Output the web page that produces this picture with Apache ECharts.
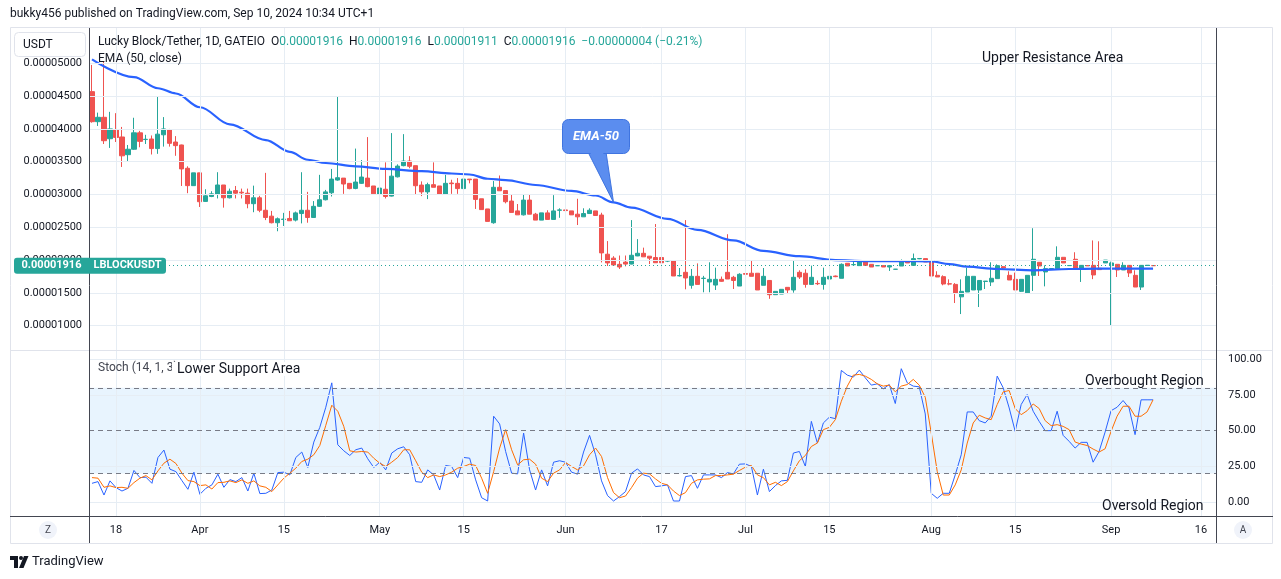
<!DOCTYPE html>
<html><head><meta charset="utf-8">
<script src="https://cdn.jsdelivr.net/npm/echarts@6/dist/echarts.min.js"></script>
<style>html,body{margin:0;padding:0;background:#fff}#c{width:1281px;height:579px}</style>
</head><body><div id="c"></div>
<script>
// ---------------- DATA ----------------
const startDate = '2024-03-14';
const missingDates = ['2024-08-25'];
const slotCount = 188;

const openP = [
0.00004568,0.00004110,0.00004177,0.00003850,0.00003990,0.00003877,0.00003607,0.00003690,0.00003940,0.00003838,
0.00003846,0.00003700,0.00003910,0.00003990,0.00003800,0.00003755,0.00003400,0.00003135,0.00003330,0.00002895,
0.00002970,0.00003000,0.00003145,0.00002950,0.00003060,0.00003035,0.00003020,0.00002860,0.00002950,0.00002760,
0.00002670,0.00002570,0.00002620,0.00002635,0.00002610,0.00002710,0.00002760,0.00002650,0.00002820,0.00002920,
0.00003027,0.00003220,0.00003250,0.00003170,0.00003093,0.00003170,0.00003250,0.00003130,0.00003007,0.00003080,
0.00002976,0.00003270,0.00003440,0.00003510,0.00003440,0.00003144,0.00003040,0.00003150,0.00003130,0.00003000,
0.00003175,0.00003170,0.00003090,0.00003235,0.00003235,0.00002935,0.00002780,0.00002570,0.00003110,0.00003060,
0.00002900,0.00002750,0.00002690,0.00002915,0.00002700,0.00002610,0.00002720,0.00002620,0.00002760,0.00002765,
0.00002750,0.00002700,0.00002660,0.00002710,0.00002750,0.00002687,0.00002090,0.00002030,0.00001936,0.00001970,
0.00001940,0.00002064,0.00002104,0.00002060,0.00002040,0.00002040,0.00001985,0.00001990,0.00001760,0.00001814,
0.00001616,0.00001753,0.00001720,0.00001667,0.00001620,0.00001707,0.00001814,0.00001738,0.00001605,0.00001795,
0.00001800,0.00001800,0.00001616,0.00001690,0.00001473,0.00001483,0.00001585,0.00001545,0.00001814,0.00001800,
0.00001630,0.00001645,0.00001630,0.00001712,0.00001757,0.00001723,0.00001952,0.00001930,0.00001916,0.00001977,
0.00001936,0.00001914,0.00001916,0.00001895,0.00001860,0.00001910,0.00001977,0.00001920,0.00002020,0.00002023,
0.00001982,0.00001768,0.00001748,0.00001640,0.00001630,0.00001440,0.00001514,0.00001545,0.00001545,0.00001675,
0.00001667,0.00001718,0.00001900,0.00001768,0.00001707,0.00001524,0.00001500,0.00001768,0.00001967,0.00001820,
0.00001870,0.00001870,0.00002043,0.00001916,0.00002013,0.00001870,0.00001916,0.00001920,0.00001875,0.00001957,
0.00001916,0.00001936,0.00001850,0.00001920,0.00001768,0.00001590,0.00001920,0.00001916];
const highP = [
0.00004975,0.00004248,0.00005025,0.00004260,0.00004240,0.00004030,0.00003755,0.00004170,0.00003970,0.00003910,
0.00003900,0.00004500,0.00004180,0.00004000,0.00003890,0.00003760,0.00003430,0.00003330,0.00003330,0.00003080,
0.00003050,0.00003340,0.00003145,0.00003090,0.00003130,0.00003090,0.00003090,0.00003135,0.00002980,0.00003330,
0.00002750,0.00002650,0.00002720,0.00002750,0.00002740,0.00003340,0.00003040,0.00002900,0.00003300,0.00003070,
0.00003390,0.00004500,0.00003250,0.00003170,0.00003700,0.00003525,0.00003875,0.00003130,0.00003630,0.00003490,
0.00003936,0.00003460,0.00003920,0.00003585,0.00003440,0.00003200,0.00003180,0.00003490,0.00003130,0.00003300,
0.00003225,0.00003250,0.00003300,0.00003235,0.00003235,0.00002935,0.00002780,0.00003205,0.00003290,0.00003060,
0.00003007,0.00002855,0.00003000,0.00003000,0.00002720,0.00002720,0.00002760,0.00002990,0.00002790,0.00002770,
0.00002750,0.00002935,0.00002790,0.00002790,0.00002750,0.00002722,0.00002290,0.00002060,0.00002070,0.00002070,
0.00002610,0.00002320,0.00002190,0.00002060,0.00002550,0.00002040,0.00002000,0.00002000,0.00001880,0.00002610,
0.00001865,0.00001950,0.00001760,0.00001967,0.00001885,0.00001750,0.00002395,0.00001760,0.00001800,0.00001800,
0.00002000,0.00001800,0.00001880,0.00001690,0.00001524,0.00001555,0.00001585,0.00002000,0.00001845,0.00001860,
0.00001916,0.00001690,0.00001885,0.00001784,0.00001765,0.00001950,0.00001952,0.00002000,0.00002000,0.00002000,
0.00001936,0.00001918,0.00001916,0.00001916,0.00001865,0.00002010,0.00001977,0.00002100,0.00002030,0.00002023,
0.00001982,0.00001830,0.00001768,0.00001707,0.00001650,0.00001707,0.00001885,0.00001753,0.00001690,0.00001680,
0.00001967,0.00001936,0.00001910,0.00001830,0.00001810,0.00001707,0.00001768,0.00002486,0.00001967,0.00001920,
0.00001875,0.00002210,0.00002043,0.00001920,0.00002120,0.00001920,0.00001918,0.00002300,0.00002287,0.00002000,
0.00001977,0.00001936,0.00001967,0.00001920,0.00001845,0.00001920,0.00001922,0.00001916];
const lowP = [
0.00004095,0.00004045,0.00003770,0.00003710,0.00003800,0.00003420,0.00003510,0.00003680,0.00003720,0.00003770,
0.00003610,0.00003620,0.00003730,0.00003730,0.00003590,0.00003130,0.00003020,0.00003130,0.00002810,0.00002890,
0.00002960,0.00002940,0.00002800,0.00002940,0.00002940,0.00002940,0.00002790,0.00002730,0.00002730,0.00002610,
0.00002560,0.00002440,0.00002520,0.00002600,0.00002590,0.00002560,0.00002570,0.00002650,0.00002810,0.00002910,
0.00002970,0.00003210,0.00003010,0.00003080,0.00003080,0.00003160,0.00003110,0.00003010,0.00002970,0.00002940,
0.00002970,0.00003260,0.00003430,0.00003400,0.00003007,0.00002976,0.00002930,0.00003110,0.00003000,0.00003000,
0.00003010,0.00003010,0.00003010,0.00003170,0.00002780,0.00002770,0.00002590,0.00002555,0.00003057,0.00002865,
0.00002727,0.00002690,0.00002680,0.00002700,0.00002610,0.00002610,0.00002620,0.00002620,0.00002645,0.00002730,
0.00002690,0.00002535,0.00002660,0.00002710,0.00002680,0.00001965,0.00001910,0.00001916,0.00001865,0.00001905,
0.00001935,0.00002060,0.00002050,0.00001940,0.00001960,0.00001880,0.00001970,0.00001758,0.00001750,0.00001555,
0.00001565,0.00001630,0.00001510,0.00001510,0.00001545,0.00001670,0.00001712,0.00001560,0.00001605,0.00001780,
0.00001753,0.00001545,0.00001616,0.00001410,0.00001473,0.00001483,0.00001483,0.00001504,0.00001713,0.00001580,
0.00001626,0.00001620,0.00001550,0.00001712,0.00001740,0.00001723,0.00001911,0.00001915,0.00001916,0.00001920,
0.00001895,0.00001912,0.00001895,0.00001835,0.00001855,0.00001910,0.00001957,0.00001920,0.00002015,0.00001972,
0.00001758,0.00001743,0.00001616,0.00001616,0.00001346,0.00001178,0.00001514,0.00001545,0.00001285,0.00001560,
0.00001605,0.00001718,0.00001870,0.00001697,0.00001545,0.00001514,0.00001500,0.00001530,0.00001758,0.00001600,
0.00001865,0.00001870,0.00001957,0.00001912,0.00001865,0.00001667,0.00001912,0.00001710,0.00001855,0.00001957,
0.00001010,0.00001743,0.00001850,0.00001743,0.00001590,0.00001545,0.00001916,0.00001911];
const closeP = [
0.00004110,0.00004177,0.00003820,0.00004000,0.00003870,0.00003590,0.00003690,0.00003940,0.00003810,0.00003842,
0.00003700,0.00003920,0.00004000,0.00003780,0.00003745,0.00003390,0.00003135,0.00003330,0.00002890,0.00002980,
0.00003010,0.00003145,0.00002950,0.00003050,0.00003020,0.00003025,0.00002860,0.00002950,0.00002760,0.00002650,
0.00002570,0.00002630,0.00002625,0.00002600,0.00002720,0.00002760,0.00002650,0.00002820,0.00002920,0.00003040,
0.00003235,0.00003256,0.00003160,0.00003090,0.00003190,0.00003266,0.00003120,0.00003010,0.00003098,0.00002970,
0.00003280,0.00003433,0.00003510,0.00003430,0.00003134,0.00003040,0.00003150,0.00003110,0.00003000,0.00003170,
0.00003165,0.00003090,0.00003235,0.00003225,0.00002925,0.00002770,0.00002590,0.00003110,0.00003057,0.00002890,
0.00002727,0.00002690,0.00002915,0.00002700,0.00002610,0.00002720,0.00002620,0.00002750,0.00002765,0.00002755,
0.00002690,0.00002660,0.00002710,0.00002760,0.00002680,0.00002110,0.00001957,0.00001926,0.00001895,0.00001940,
0.00002074,0.00002104,0.00002050,0.00002030,0.00001960,0.00001960,0.00001990,0.00001758,0.00001765,0.00001728,
0.00001753,0.00001630,0.00001725,0.00001707,0.00001707,0.00001677,0.00001712,0.00001690,0.00001784,0.00001785,
0.00001753,0.00001545,0.00001753,0.00001473,0.00001524,0.00001555,0.00001545,0.00001738,0.00001743,0.00001630,
0.00001738,0.00001640,0.00001738,0.00001753,0.00001748,0.00001936,0.00001911,0.00001932,0.00001972,0.00001920,
0.00001895,0.00001916,0.00001895,0.00001916,0.00001862,0.00001977,0.00001957,0.00002023,0.00002025,0.00001972,
0.00001758,0.00001743,0.00001636,0.00001635,0.00001500,0.00001524,0.00001753,0.00001753,0.00001690,0.00001680,
0.00001723,0.00001916,0.00001880,0.00001697,0.00001545,0.00001707,0.00001768,0.00002013,0.00001911,0.00001870,
0.00001872,0.00002043,0.00001957,0.00001918,0.00001865,0.00001920,0.00001914,0.00001774,0.00001855,0.00002000,
0.00001957,0.00001850,0.00001920,0.00001804,0.00001590,0.00001920,0.00001920,0.00001916];

// EMA(50) at selected dates
const emaPoints = [
['2024-03-14',0.00005060],['2024-03-21',0.00004790],['2024-03-25',0.00004620],['2024-03-28',0.00004540],
['2024-04-01',0.00004330],['2024-04-06',0.00004070],['2024-04-12',0.00003830],['2024-04-16',0.00003650],
['2024-04-19',0.00003530],['2024-04-22',0.00003480],['2024-04-27',0.00003430],['2024-05-02',0.00003390],
['2024-05-08',0.00003355],['2024-05-13',0.00003320],['2024-05-16',0.00003305],['2024-05-19',0.00003240],
['2024-05-22',0.00003220],['2024-05-27',0.00003145],['2024-06-02',0.00003055],['2024-06-06',0.00002985],
['2024-06-09',0.00002880],['2024-06-12',0.00002800],['2024-06-18',0.00002630],['2024-06-23',0.00002460],
['2024-06-29',0.00002300],['2024-07-04',0.00002140],['2024-07-10',0.00002060],['2024-07-16',0.00002000],
['2024-07-21',0.00001985],['2024-07-27',0.00001985],['2024-08-01',0.00001980],['2024-08-04',0.00001940],
['2024-08-07',0.00001900],['2024-08-12',0.00001865],['2024-08-18',0.00001845],['2024-08-24',0.00001865],
['2024-08-30',0.00001870],['2024-09-08',0.00001870]];
const emaCalloutDate = '2024-06-09';

const stochK = [
13.1,14.3,4.9,14.8,10.1,7.7,9.6,22.1,17.1,17.4,
13.1,31.2,36.4,23.0,21.3,15.0,8.9,20.9,5.4,9.6,
12.0,19.5,10.3,15.7,14.3,17.1,7.7,20.2,5.9,6.1,
8.4,20.6,20.9,19.0,31.2,35.0,24.2,42.0,52.3,66.4,
83.5,40.1,35.9,32.6,36.6,37.8,30.3,24.2,27.9,22.5,
34.3,37.3,38.7,33.1,14.3,13.8,22.5,19.0,8.4,25.6,
24.9,17.1,31.2,30.7,15.5,3.0,0.7,60.1,54.7,35.4,
20.2,19.7,48.3,22.5,8.4,22.5,11.3,27.9,28.9,27.9,
20.9,19.5,35.0,46.7,33.1,14.8,4.5,0.7,3.8,7.3,
20.2,23.2,19.0,17.8,10.8,11.3,12.0,0.7,0.7,17.8,
18.5,9.6,19.0,19.0,19.0,17.1,20.6,19.7,26.5,26.7,
24.9,4.9,23.0,7.3,11.5,14.8,15.2,34.3,35.4,24.9,
56.5,41.3,55.4,59.4,58.4,92.2,88.9,87.5,92.4,87.0,
81.9,82.8,79.3,82.3,69.0,93.4,83.5,81.2,80.7,61.7,
6.1,2.6,6.1,6.1,19.0,33.1,63.1,63.1,57.0,55.4,
60.1,88.2,80.0,65.9,49.5,68.3,75.3,63.6,56.5,50.0,
50.0,63.6,46.7,42.5,37.8,41.8,41.8,27.9,35.4,49.0,
64.0,66.4,71.1,65.9,47.2,71.6,71.6,71.6];
const stochD = [
17.1,16.7,10.3,11.3,10.1,10.3,9.6,13.6,16.7,18.5,
15.5,21.8,27.2,30.0,27.0,20.2,15.0,14.3,11.5,12.0,
9.1,13.6,13.8,14.8,13.6,15.5,13.1,14.8,11.3,10.3,
7.3,12.0,16.7,20.2,23.7,28.4,30.0,33.1,39.6,53.7,
67.8,63.6,53.0,35.9,35.0,35.4,35.0,30.7,27.2,24.9,
27.9,31.2,36.6,36.6,28.9,20.9,17.1,19.0,17.8,19.0,
20.9,23.7,24.9,26.5,25.6,16.7,6.1,21.3,37.8,50.7,
36.6,26.0,29.6,30.0,26.5,16.7,14.3,20.2,22.5,27.7,
24.9,22.5,25.3,33.1,37.8,31.9,17.1,6.6,3.0,4.2,
10.1,16.7,20.2,19.7,16.2,13.1,12.0,7.7,4.5,6.6,
13.1,15.5,16.0,16.2,18.5,18.5,19.0,19.5,22.1,24.4,
25.6,19.0,17.1,12.0,13.8,11.5,14.3,21.8,28.9,32.6,
38.9,41.3,50.7,52.3,57.7,70.6,81.2,88.9,89.4,88.2,
85.9,82.8,81.2,81.9,77.2,81.2,82.3,85.9,81.9,73.4,
48.3,21.3,4.9,4.9,12.0,22.5,41.3,55.4,60.8,58.9,
57.7,68.3,77.2,78.1,65.5,61.2,64.0,68.7,65.5,57.0,
53.5,54.2,53.0,50.7,42.0,40.6,39.6,37.1,35.0,37.3,
49.5,60.1,67.1,67.1,60.1,60.1,63.1,71.6];

const priceTicks = [0.00001,0.000015,0.00002,0.000025,0.00003,0.000035,0.00004,0.000045,0.00005];
const stochTicks = [0,25,50,75,100];
const stochLevels = [20,50,80];
const tickDates = ['2024-03-18','2024-04-01','2024-04-15','2024-05-01','2024-05-15','2024-06-01','2024-06-17','2024-07-01','2024-07-15','2024-08-01','2024-08-15','2024-09-01','2024-09-16'];
const tickTexts = ['18','Apr','15','May','15','Jun','17','Jul','15','Aug','15','Sep','16'];

// ---------------- BUILD ----------------
const categories = [];
{ const d = new Date(startDate + 'T00:00:00Z');
  while (categories.length < slotCount) {
    const s = d.toISOString().slice(0, 10);
    if (!missingDates.includes(s)) categories.push(s);
    d.setUTCDate(d.getUTCDate() + 1);
  } }

const FONT = 'Roboto, "Liberation Sans", Arial, sans-serif';
const TXT = '#131722';
const GRIDC = '#e6edf4';
const UP = '#26a69a', DOWN = '#ef5350';
const LEVELC = '#787b86';

const candles = openP.map((o, i) => [o, closeP[i], lowP[i], highP[i]]);
const last = closeP.length - 1;
const lastClose = closeP[last];

const priceLabel = { show: true, position: 'start', distance: 7, color: TXT, fontSize: 11, fontFamily: FONT };
const stochLabel = { show: true, position: 'end', distance: 12, color: TXT, fontSize: 11, fontFamily: FONT };
const stochLineValues = [...new Set([...stochTicks, ...stochLevels])].sort((a, b) => a - b);

const option = {
  animation: false,
  backgroundColor: '#ffffff',
  grid: [
    { left: 89, top: 28, width: 1127, height: 322 },
    { left: 89, top: 351, width: 1127, height: 165 }
  ],
  xAxis: [
    { type: 'category', gridIndex: 0, data: categories, boundaryGap: true, show: false },
    { type: 'category', gridIndex: 1, data: categories, boundaryGap: true,
      axisLine: { show: false }, axisTick: { show: false }, splitLine: { show: false },
      axisLabel: { interval: (i, v) => tickDates.includes(v), formatter: v => tickTexts[tickDates.indexOf(v)] || '',
        color: TXT, fontSize: 11, fontFamily: FONT, margin: 9, hideOverlap: false } }
  ],
  yAxis: [
    { type: 'value', gridIndex: 0, min: 0.0000063, max: 0.00005538, show: false },
    { type: 'value', gridIndex: 1, min: -9.8, max: 105.8, show: false }
  ],
  series: [
    { name: 'grid-main', type: 'line', xAxisIndex: 0, yAxisIndex: 0, data: [], clip: false, silent: true, z: 1,
      markLine: { silent: true, precision: 12, symbol: ['none', 'none'], label: { show: false },
        lineStyle: { color: GRIDC, width: 1, type: 'solid' },
        data: [
          ...tickDates.map(d => ({ xAxis: d })),
          ...priceTicks.map(v => ({ yAxis: v, label: Object.assign({}, priceLabel, { formatter: v.toFixed(8) }) }))
        ] } },
    { name: 'LBLOCKUSDT', type: 'candlestick', xAxisIndex: 0, yAxisIndex: 0, barWidth: 4.6, data: candles, z: 3,
      itemStyle: { color: UP, color0: DOWN, borderColor: UP, borderColor0: DOWN, borderWidth: 1 },
      markLine: { silent: true, precision: 12, symbol: ['none', 'none'], label: { show: false },
        lineStyle: { color: UP, type: [1, 3], width: 1 }, data: [{ yAxis: lastClose }] } },
    { name: 'EMA (50, close)', type: 'line', xAxisIndex: 0, yAxisIndex: 0, data: emaPoints, smooth: 0.35, smoothMonotone: 'x',
      symbol: 'none', z: 4, lineStyle: { color: '#2962ff', width: 2.2 } },
    { name: 'band', type: 'line', xAxisIndex: 1, yAxisIndex: 1, data: [], silent: true, z: 1,
      markArea: { silent: true, itemStyle: { color: 'rgba(33,150,243,0.1)' },
        data: [[{ yAxis: stochLevels[0] }, { yAxis: stochLevels[2] }]] } },
    { name: 'grid-stoch', type: 'line', xAxisIndex: 1, yAxisIndex: 1, data: [], clip: false, silent: true, z: 1,
      markLine: { silent: true, precision: 6, symbol: ['none', 'none'], label: { show: false },
        lineStyle: { color: GRIDC, width: 1, type: 'solid' },
        data: [
          ...tickDates.map(d => ({ xAxis: d })),
          ...stochLineValues.map(v => {
            const item = { yAxis: v };
            if (stochLevels.includes(v)) item.lineStyle = { color: LEVELC, type: [5, 4], width: 1 };
            if (stochTicks.includes(v)) item.label = Object.assign({}, stochLabel, { formatter: v.toFixed(2) });
            return item;
          })
        ] } },
    { name: '%K', type: 'line', xAxisIndex: 1, yAxisIndex: 1, data: stochK, symbol: 'none', z: 3,
      lineStyle: { color: '#2962ff', width: 1 } },
    { name: '%D', type: 'line', xAxisIndex: 1, yAxisIndex: 1, data: stochD, symbol: 'none', z: 3,
      lineStyle: { color: '#ff6d00', width: 1 } }
  ]
};

const chart = echarts.init(document.getElementById('c'));
chart.setOption(option);

const yLast = chart.convertToPixel({ yAxisIndex: 0 }, lastClose);
const emaAnchor = emaPoints.find(p => p[0] === emaCalloutDate);
const tip = chart.convertToPixel({ gridIndex: 0 }, [categories.indexOf(emaAnchor[0]), emaAnchor[1]]);

const fmt = v => v.toFixed(8);
const chg = closeP[last] - closeP[last - 1];
const pct = chg / closeP[last - 1] * 100;
const sgn = v => (v < 0 ? '\u2212' : '+');
const headerText = '{g|Lucky Block/Tether, 1D, GATEIO  O}{t|' + fmt(openP[last]) + '}{g|  H}{t|' + fmt(highP[last]) +
  '}{g|  L}{t|' + fmt(lowP[last]) + '}{g|  C}{t|' + fmt(closeP[last]) + '}{t|  ' + sgn(chg) + fmt(Math.abs(chg)) +
  ' (' + sgn(chg) + Math.abs(pct).toFixed(2) + '%)}';

function txt(x, y, text, size, color, extra) {
  return Object.assign({ type: 'text', x: x, y: y, z: 60, silent: true,
    style: { text: text, fill: color || TXT, font: size + 'px ' + FONT, verticalAlign: 'middle', align: 'left' } }, extra || {});
}
const line = (x1, y1, x2, y2, c) => ({ type: 'line', z: 55, silent: true, shape: { x1, y1, x2, y2 }, style: { stroke: c, lineWidth: 1 } });

const graphics = [
  { type: 'rect', z: 50, silent: true, shape: { x: 10.5, y: 27.5, width: 1262, height: 516 }, style: { fill: 'none', stroke: '#e0e3eb', lineWidth: 1 } },
  line(10, 350.5, 1273, 350.5, '#e0e3eb'),
  line(89.5, 28, 89.5, 543, '#434651'),
  line(1216.5, 28, 1216.5, 543, '#434651'),
  line(10, 516.5, 1273, 516.5, '#434651'),
  txt(10, 14, 'bukky456 published on TradingView.com, Sep 10, 2024 10:34 UTC+1', 12),
  { type: 'text', x: 98, y: 42, z: 60, silent: true,
    style: { text: headerText, verticalAlign: 'middle', rich: { g: { fill: TXT, font: '12px ' + FONT }, t: { fill: UP, font: '12px ' + FONT } } } },
  txt(98, 59, 'EMA (50, close)', 12),
  txt(98, 368, 'Stoch (14, 1, 3)', 12, '#434651'),
  { type: 'text', x: 172, y: 369, z: 61, silent: true,
    style: { text: 'Lower Support Area', fill: TXT, font: '14px ' + FONT, verticalAlign: 'middle', align: 'left', backgroundColor: '#ffffff', padding: [0, 2, 0, 5] } },
  txt(982, 58, 'Upper Resistance Area', 14),
  txt(1085, 381, 'Overbought Region', 14),
  txt(1102, 506, 'Oversold Region', 14),
  // USDT box
  { type: 'rect', z: 70, silent: true, shape: { x: 14.5, y: 32.5, width: 71, height: 24, r: 4 }, style: { fill: '#ffffff', stroke: '#e0e3eb' } },
  txt(23, 45, 'USDT', 12, TXT, { z: 71 }),
  // price label
  { type: 'rect', z: 70, silent: true, shape: { x: 14, y: yLast - 8, width: 152, height: 16, r: [3, 3, 3, 3] }, style: { fill: UP } },
  { type: 'text', z: 71, silent: true, x: 51.5, y: yLast, style: { text: fmt(lastClose), fill: '#fff', font: 'bold 11px ' + FONT, align: 'center', verticalAlign: 'middle' } },
  { type: 'text', z: 71, silent: true, x: 127.5, y: yLast, style: { text: 'LBLOCKUSDT', fill: '#fff', font: 'bold 11px ' + FONT, align: 'center', verticalAlign: 'middle' } },
  // EMA-50 callout
  { type: 'polygon', z: 65, silent: true, shape: { points: [[588, 152], [606, 152], [tip[0], tip[1]]] }, style: { fill: '#5b8def', stroke: '#3f74e0', lineWidth: 1 } },
  { type: 'rect', z: 66, silent: true, shape: { x: 562.5, y: 119.5, width: 67, height: 34, r: 6 }, style: { fill: '#5b8def', stroke: '#3f74e0', lineWidth: 1 } },
  { type: 'polygon', z: 67, silent: true, shape: { points: [[589, 151], [605, 151], [603, 154], [591, 154]] }, style: { fill: '#5b8def' } },
  { type: 'text', z: 68, silent: true, x: 596, y: 136.5, style: { text: 'EMA-50', fill: '#ffffff', font: 'italic bold 13px ' + FONT, align: 'center', verticalAlign: 'middle' } },
  // Z / A buttons
  { type: 'circle', z: 60, silent: true, shape: { cx: 48, cy: 530, r: 9 }, style: { fill: '#f0f3fa' } },
  { type: 'text', z: 61, silent: true, x: 48, y: 530, style: { text: 'Z', fill: '#434651', font: '10px ' + FONT, align: 'center', verticalAlign: 'middle' } },
  { type: 'circle', z: 60, silent: true, shape: { cx: 1243, cy: 530, r: 9 }, style: { fill: '#f0f3fa' } },
  { type: 'text', z: 61, silent: true, x: 1243, y: 530, style: { text: 'A', fill: '#434651', font: '10px ' + FONT, align: 'center', verticalAlign: 'middle' } },
  // TradingView logo
  { type: 'polygon', z: 60, silent: true, shape: { points: [[10, 556], [18, 556], [18, 568], [14, 568], [14, 560], [10, 560]] }, style: { fill: TXT } },
  { type: 'circle', z: 60, silent: true, shape: { cx: 21, cy: 558, r: 2 }, style: { fill: TXT } },
  { type: 'polygon', z: 60, silent: true, shape: { points: [[24, 556], [28.5, 556], [23.5, 568], [19, 568]] }, style: { fill: TXT } },
  txt(32, 562, 'TradingView', 13, TXT)
];
chart.setOption({ graphic: graphics });
</script>
</body></html>
